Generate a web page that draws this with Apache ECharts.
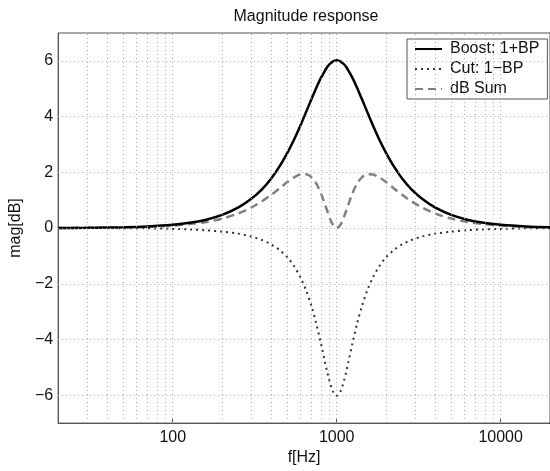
<!DOCTYPE html>
<html>
<head>
<meta charset="utf-8">
<script src="https://cdn.jsdelivr.net/npm/echarts@6/dist/echarts.min.js"></script>
<style>html,body{margin:0;padding:0;background:#fff}#c{width:550px;height:471px}</style>
</head>
<body>
<div id="c"></div>
<script>
// Frequencies (Hz)
var freqs = [20, 30, 40, 50, 70, 100, 130, 160, 200, 250, 300, 350, 400, 450, 500, 550, 600, 650, 700, 750, 800, 850, 875, 900, 925, 950, 975, 1000,
  1026, 1053, 1081, 1111, 1143, 1176, 1250, 1333, 1429, 1538, 1667, 1818, 2000, 2222, 2500, 2857, 3333, 4000, 5000, 6250, 7692, 10000, 14286, 20000];
// Boost: 1+BP (dB)
var boost = [0.00, 0.01, 0.02, 0.03, 0.06, 0.12, 0.20, 0.30, 0.47, 0.73, 1.04, 1.39, 1.79, 2.23, 2.70, 3.18, 3.67, 4.16, 4.61, 5.03, 5.38, 5.66, 5.78, 5.87, 5.93, 5.98, 6.01, 6.02,
  6.01, 5.98, 5.93, 5.87, 5.78, 5.66, 5.38, 5.03, 4.61, 4.16, 3.67, 3.18, 2.70, 2.23, 1.79, 1.39, 1.04, 0.73, 0.47, 0.30, 0.20, 0.12, 0.06, 0.03];
// Cut: 1-BP (dB)
var cut = [0.00, 0.00, 0.00, -0.01, -0.01, -0.03, -0.05, -0.08, -0.13, -0.20, -0.30, -0.43, -0.59, -0.80, -1.05, -1.37, -1.76, -2.23, -2.78, -3.42, -4.12, -4.83, -5.16, -5.45, -5.69, -5.87, -5.98, -6.02,
  -5.98, -5.87, -5.69, -5.45, -5.16, -4.83, -4.12, -3.42, -2.78, -2.23, -1.76, -1.37, -1.05, -0.80, -0.59, -0.43, -0.30, -0.20, -0.13, -0.08, -0.05, -0.03, -0.01, -0.01];
// dB Sum
var dbSum = [0.00, 0.01, 0.01, 0.02, 0.04, 0.09, 0.15, 0.22, 0.34, 0.52, 0.73, 0.96, 1.20, 1.43, 1.65, 1.82, 1.92, 1.93, 1.83, 1.60, 1.26, 0.83, 0.62, 0.42, 0.24, 0.11, 0.03, 0.00,
  0.03, 0.11, 0.24, 0.42, 0.62, 0.83, 1.26, 1.60, 1.83, 1.93, 1.92, 1.82, 1.65, 1.43, 1.20, 0.96, 0.73, 0.52, 0.34, 0.22, 0.15, 0.09, 0.04, 0.02];
// Vertical grid line positions (Hz)
var gridFreqs = [30, 40, 50, 60, 70, 80, 90, 100, 200, 300, 400, 500, 600, 700, 800, 900, 1000, 2000, 3000, 4000, 5000, 6000, 7000, 8000, 9000, 10000];
// Horizontal grid / y tick values (dB)
var yTicks = [-6, -4, -2, 0, 2, 4, 6];
var seriesNames = ['Boost: 1+BP', 'Cut: 1\u2212BP', 'dB Sum'];
var titleText = 'Magnitude response';
var xName = 'f[Hz]';
var yName = 'mag[dB]';

function pairs(vals) { return freqs.map(function (f, i) { return [f, vals[i]]; }); }

var FONT = 'Liberation Sans, Arial, Helvetica, sans-serif';
var FS = 16;
var gridLineStyle = { color: '#aaa', type: [1, 3], width: 1 };
var chart = echarts.init(document.getElementById('c'), null, { renderer: 'canvas' });
chart.setOption({
  animation: false,
  backgroundColor: '#fff',
  title: {
    text: titleText, left: 301, top: 4, textAlign: 'center',
    textStyle: { fontFamily: FONT, fontSize: FS, fontWeight: 'normal', color: '#111' }
  },
  grid: { left: 50, right: -2, top: 33, bottom: 41.5, show: true, borderColor: '#555', borderWidth: 1, backgroundColor: 'transparent' },
  legend: {
    orient: 'vertical', left: 407, top: 39,
    data: seriesNames,
    backgroundColor: '#fff', borderColor: '#555', borderWidth: 1,
    padding: [2, 8, 2, 7],
    itemWidth: 27, itemHeight: 14, itemGap: 4,
    itemStyle: { opacity: 0 },
    textStyle: { fontFamily: FONT, fontSize: FS, color: '#111', padding: [0, 0, 0, 3] }
  },
  xAxis: {
    type: 'log', logBase: 10, min: 20, max: 20000,
    name: xName, nameLocation: 'middle', nameGap: 24,
    nameTextStyle: { fontFamily: FONT, fontSize: FS, color: '#111' },
    axisLine: { onZero: false, lineStyle: { color: '#555', width: 1 } },
    axisTick: { inside: true, length: 5, lineStyle: { color: '#555' } },
    axisLabel: {
      fontFamily: FONT, fontSize: FS, color: '#111', margin: 6, showMinLabel: false, showMaxLabel: false,
      formatter: function (v) { return String(Math.round(v)); }
    },
    splitLine: { show: false }
  },
  yAxis: {
    type: 'value', min: -7, max: 7, interval: 1,
    name: yName, nameLocation: 'middle', nameGap: 29,
    nameTextStyle: { fontFamily: FONT, fontSize: FS, color: '#111' },
    axisLine: { show: true, lineStyle: { color: '#555', width: 1 } },
    axisTick: { show: false },
    axisLabel: {
      fontFamily: FONT, fontSize: FS, color: '#111', margin: 5,
      formatter: function (v) {
        if (yTicks.indexOf(v) < 0) return '';
        return v < 0 ? '\u2212' + (-v) : String(v);
      }
    },
    splitLine: { show: false }
  },
  series: [
    {
      name: '_grid', type: 'line', data: [[20, 0]], symbol: 'none', silent: true, z: 1,
      lineStyle: { opacity: 0 },
      markLine: {
        silent: true, symbol: 'none', label: { show: false },
        lineStyle: gridLineStyle,
        data: gridFreqs.map(function (f) { return { xAxis: f }; })
          .concat(yTicks.map(function (v) { return { yAxis: v }; })),
        animation: false
      }
    },
    {
      name: seriesNames[0], type: 'line', data: pairs(boost), symbol: 'none', smooth: 0.3, z: 4,
      lineStyle: { color: '#000', width: 2.5 }, itemStyle: { color: '#000' }
    },
    {
      name: seriesNames[1], type: 'line', data: pairs(cut), symbol: 'none', smooth: 0.3, z: 3,
      lineStyle: { color: '#333', width: 2, type: [2, 4] }, itemStyle: { color: '#333' }
    },
    {
      name: seriesNames[2], type: 'line', data: pairs(dbSum), symbol: 'none', smooth: 0.3, z: 3,
      lineStyle: { color: '#808080', width: 2.5, type: [8, 5] }, itemStyle: { color: '#808080' }
    }
  ]
});
</script>
</body>
</html>
